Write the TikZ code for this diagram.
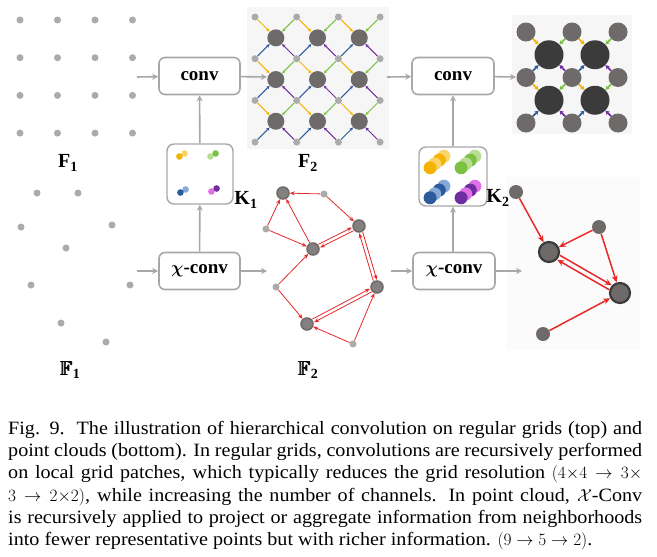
\documentclass[tikz,border=0pt]{standalone}
\usepackage{fontspec}
\setmainfont{Liberation Serif}
\newfontfamily\capfont[FakeStretch=1.07]{Liberation Serif}
\usepackage{amssymb}
\usepackage{bm}
\usetikzlibrary{arrows.meta,calc}

\newcommand{\boldbbF}{\rlap{$\mathbb{F}$}\kern0.5pt\rlap{$\mathbb{F}$}\kern0.5pt$\mathbb{F}$}

\definecolor{boxgray}{HTML}{A8A8A8}
\definecolor{dotgray}{HTML}{ABABAB}
\definecolor{midgray}{HTML}{6E6A6A}
\definecolor{darkdot}{HTML}{3B3B3B}
\definecolor{ptred}{HTML}{E52A2A}
\definecolor{kyellow}{HTML}{F5B301}
\definecolor{kyellowl}{HTML}{FBD469}
\definecolor{kgreen}{HTML}{7CC142}
\definecolor{kgreenl}{HTML}{B9DD94}
\definecolor{kblue}{HTML}{2C5A9C}
\definecolor{kbluel}{HTML}{86A8D8}
\definecolor{kpurple}{HTML}{6F2DA0}
\definecolor{kpurplel}{HTML}{E36FE8}
\definecolor{bgpanel}{HTML}{F6F6F6}

\tikzset{
  graydot/.style={circle, fill=dotgray, inner sep=0pt, minimum size=7pt},
  bigdot/.style={circle, fill=midgray, inner sep=0pt, minimum size=17pt},
  meddot/.style={circle, fill=midgray, inner sep=0pt, minimum size=19pt},
  hugedot/.style={circle, fill=darkdot, inner sep=0pt, minimum size=29pt},
  pcbig/.style={circle, fill=midgray!85, draw=midgray, line width=1.5pt, inner sep=0pt, minimum size=12pt},
  outsmall/.style={circle, fill=midgray, inner sep=0pt, minimum size=14pt},
  outbig/.style={circle, fill=midgray, draw=darkdot, line width=2.2pt, inner sep=0pt, minimum size=20pt},
  opbox/.style={draw=boxgray, line width=1.6pt, rounded corners=6pt, fill=white, minimum width=81pt, minimum height=37pt, inner sep=0pt, font=\bfseries\fontsize{19}{19}\selectfont},
  kbox/.style={draw=boxgray, line width=1.4pt, rounded corners=7pt, fill=white, inner sep=0pt},
  flow/.style={draw=boxgray, line width=1.6pt, -{Stealth[length=6pt,width=6pt]}},
  gridarr/.style={line width=1pt, -{Stealth[length=3.5pt,width=3.2pt]}},
  bigarr/.style={line width=1.8pt, -{Stealth[length=4pt,width=4.5pt]}},
  redarr/.style={draw=ptred, line width=0.8pt, -{Stealth[length=5pt,width=4pt]}},
  redbold/.style={draw=ptred, line width=1.5pt, -{Stealth[length=7pt,width=6pt]}},
  pair/.style={shorten >=#1, shorten <=#1},
  lbl/.style={font=\bfseries\fontsize{20}{20}\selectfont, inner sep=0pt},
}

\begin{document}
\begin{tikzpicture}[x=1pt, y=-1pt]
    \fill[white] (0,0) rectangle (657,557);
    \useasboundingbox (0,0) rectangle (657,557);

    % panels
    \fill[bgpanel] (247,7) rectangle (389,149);
    \fill[bgpanel] (512,15) rectangle (632,134);
    \fill[bgpanel!40] (507,177) rectangle (640,350);

    % F1 grid
    \foreach \i in {0,...,3}{
        \foreach \j in {0,...,3}{
            \node[graydot] (g\i\j) at ({20+37.5*\i},{20+37.7*\j}) {};
        }
    }
    \node[lbl] (f1lbl) at (68,163) {F\textsubscript{1}};

    % F1 point cloud
    \foreach \n/\x/\y in {p1/37/193, p2/78/193, p3/21/227, p4/112/225, p5/66/248,
                          p6/31/285, p7/130/285, p8/61/323, p9/106/342}{
        \node[graydot] (\n) at (\x,\y) {};
    }
    \node[lbl] (pf1lbl) at (70,370) {\boldbbF\textsubscript{1}};

    % operators
    \node[opbox] (conv1) at (199.5,76) {conv};
    \node[opbox] (xconv1) at (199.5,271) {$\bm{\chi}$-conv};
    \node[opbox, minimum width=82pt] (conv2) at (453,76) {conv};
    \node[opbox, minimum width=82pt] (xconv2) at (454,271) {$\bm{\chi}$-conv};

    \node[kbox, minimum width=66pt, minimum height=60pt] (k1) at (200,174) {};
    \node[kbox, minimum width=68pt, minimum height=59pt] (k2) at (453,176.5) {};
    \node[lbl] (k1lbl) at (246,200) {K\textsubscript{1}};
    \node[lbl] (k2lbl) at (498,198) {K\textsubscript{2}};

    % kernels
    \foreach \cx/\cy/\dk/\lt in {182/155/kyellow/kyellowl, 213/155/kgreenl/kgreen,
                                 183/191/kblue/kbluel, 214/190/kpurplel/kpurple}{
        \fill[\lt] ({\cx+2.6},{\cy-1.5}) circle (3.3);
        \fill[\dk] ({\cx-2.6},{\cy+1.5}) circle (3.3);
    }
    \foreach \cx/\cy/\dk/\lt in {437/162/kyellow/kyellowl, 468/162/kgreen/kgreenl,
                                 437/192/kblue/kbluel, 468/192/kpurple/kpurplel}{
        \fill[\lt] ({\cx+6.9},{\cy-5.8}) circle (6.5);
        \fill[\dk] ({\cx+2.3},{\cy-1.9}) circle (6.5);
        \fill[\lt] ({\cx-2.3},{\cy+1.9}) circle (6.5);
        \fill[\dk] ({\cx-6.9},{\cy+5.8}) circle (6.5);
    }

    % flow arrows
    \coordinate (in1) at (137,77);
    \coordinate (out1) at (267,77);
    \coordinate (in2) at (387,77);
    \coordinate (out2) at (516,77);
    \coordinate (in3) at (137,271);
    \coordinate (out3) at (267,271);
    \coordinate (in4) at (391,271);
    \coordinate (out4) at (522,271);
    \draw[flow] (in1) -- (conv1);
    \draw[flow] (conv1) -- (out1);
    \draw[flow] (in2) -- (conv2);
    \draw[flow] (conv2) -- (out2);
    \draw[flow] (in3) -- (xconv1);
    \draw[flow] (xconv1) -- (out3);
    \draw[flow] (in4) -- (xconv2);
    \draw[flow] (xconv2) -- (out4);
    \draw[flow] (k1) -- (conv1);
    \draw[flow] (xconv1) -- (k1);
    \draw[flow] (k2) -- (conv2);
    \draw[flow] (xconv2.north -| k2) -- (k2);

    % F2 grid
    \foreach \i in {0,...,3}{
        \foreach \j in {0,...,3}{
            \node[graydot] (s\i\j) at ({255+41.7*\i},{17+41.7*\j}) {};
        }
    }
    \foreach \i in {0,1,2}{
        \foreach \j in {0,1,2}{
            \pgfmathtruncatemacro{\ii}{\i+1}
            \pgfmathtruncatemacro{\jj}{\j+1}
            \node[bigdot] (b\i\j) at ($(s\i\j)!0.5!(s\ii\jj)$) {};
            \draw[gridarr, kyellow] (s\i\j) -- (b\i\j);
            \draw[gridarr, kgreen] (s\ii\j) -- (b\i\j);
            \draw[gridarr, kblue] (s\i\jj) -- (b\i\j);
            \draw[gridarr, kpurple] (s\ii\jj) -- (b\i\j);
        }
    }
    \node[lbl] (f2lbl) at (308,163) {F\textsubscript{2}};

    % F3 grid
    \foreach \i in {0,...,2}{
        \foreach \j in {0,...,2}{
            \node[meddot] (m\i\j) at ({526+46*\i},{32+45.5*\j}) {};
        }
    }
    \foreach \i in {0,1}{
        \foreach \j in {0,1}{
            \pgfmathtruncatemacro{\ii}{\i+1}
            \pgfmathtruncatemacro{\jj}{\j+1}
            \node[hugedot] (h\i\j) at ($(m\i\j)!0.5!(m\ii\jj)$) {};
            \draw[bigarr, kyellow] (m\i\j) -- (h\i\j);
            \draw[bigarr, kgreen] (m\ii\j) -- (h\i\j);
            \draw[bigarr, kblue] (m\i\jj) -- (h\i\j);
            \draw[bigarr, kpurple] (m\ii\jj) -- (h\i\j);
        }
    }

    % F2 point cloud
    \node[pcbig] (pa) at (283,193) {};
    \node[pcbig] (pb) at (359,226) {};
    \node[pcbig] (pc) at (313,249) {};
    \node[pcbig] (pd) at (377,287) {};
    \node[pcbig] (pe) at (307,324) {};
    \node[graydot] (q1) at (324,194) {};
    \node[graydot] (q2) at (266,229) {};
    \node[graydot] (q3) at (276,287) {};
    \node[graydot] (q4) at (353,344) {};
    \draw[redarr] (q1) -- (pa);
    \draw[redarr] (q1) -- (pb);
    \draw[redarr] (q2) -- (pa);
    \draw[redarr] (q2) -- (pc);
    \draw[redarr] (pc) -- (pa);
    \draw[redarr] (q3) -- (pc);
    \draw[redarr] (q3) -- (pe);
    \draw[redarr] (q4) -- (pe);
    \draw[redarr] (q4) -- (pd);
    \draw[redarr, pair=7pt] ($(pb)!1.8pt!90:(pc)$) -- ($(pc)!1.8pt!-90:(pb)$);
    \draw[redarr, pair=7pt] ($(pc)!1.8pt!90:(pb)$) -- ($(pb)!1.8pt!-90:(pc)$);
    \draw[redarr, pair=7pt] ($(pb)!1.8pt!90:(pd)$) -- ($(pd)!1.8pt!-90:(pb)$);
    \draw[redarr, pair=7pt] ($(pd)!1.8pt!90:(pb)$) -- ($(pb)!1.8pt!-90:(pd)$);
    \draw[redarr, pair=7pt] ($(pd)!1.8pt!90:(pe)$) -- ($(pe)!1.8pt!-90:(pd)$);
    \draw[redarr, pair=7pt] ($(pe)!1.8pt!90:(pd)$) -- ($(pd)!1.8pt!-90:(pe)$);
    \node[lbl] (pf2lbl) at (308,370) {\boldbbF\textsubscript{2}};

    % F3 point cloud
    \node[outbig] (ra) at (549,252) {};
    \node[outbig] (rb) at (620,293) {};
    \node[outsmall] (t1) at (516,192) {};
    \node[outsmall] (t2) at (599,227) {};
    \node[outsmall] (t3) at (543,334) {};
    \draw[redbold] (t1) -- (ra);
    \draw[redbold] (t2) -- (ra);
    \draw[redbold] (t2) -- (rb);
    \draw[redbold] (t3) -- (rb);
    \draw[redbold, pair=11pt] ($(ra)!2.6pt!90:(rb)$) -- ($(rb)!2.6pt!-90:(ra)$);
    \draw[redbold, pair=11pt] ($(rb)!2.6pt!90:(ra)$) -- ($(ra)!2.6pt!-90:(rb)$);

    % caption
    \node[anchor=north west, inner sep=0pt, text width=634pt, align=justify,
          font=\capfont\fontsize{18.8}{22.2}\selectfont]
          (caption) at (8,421) {\hyphenpenalty=10000 \exhyphenpenalty=10000 \relax
Fig. 9.\ \ The illustration of hierarchical convolution on regular grids (top) and\linebreak
point clouds (bottom). In regular grids, convolutions are recursively performed\linebreak
on local grid patches, which typically reduces the grid resolution $(4{\times}4 \rightarrow 3\times$\linebreak
$3 \rightarrow 2{\times}2)$, while increasing the number of channels. In point cloud, $\mathcal{X}$-Conv\linebreak
is recursively applied to project or aggregate information from neighborhoods\linebreak
into fewer representative points but with richer information. $(9 \rightarrow 5 \rightarrow 2)$.};
\end{tikzpicture}
\end{document}
